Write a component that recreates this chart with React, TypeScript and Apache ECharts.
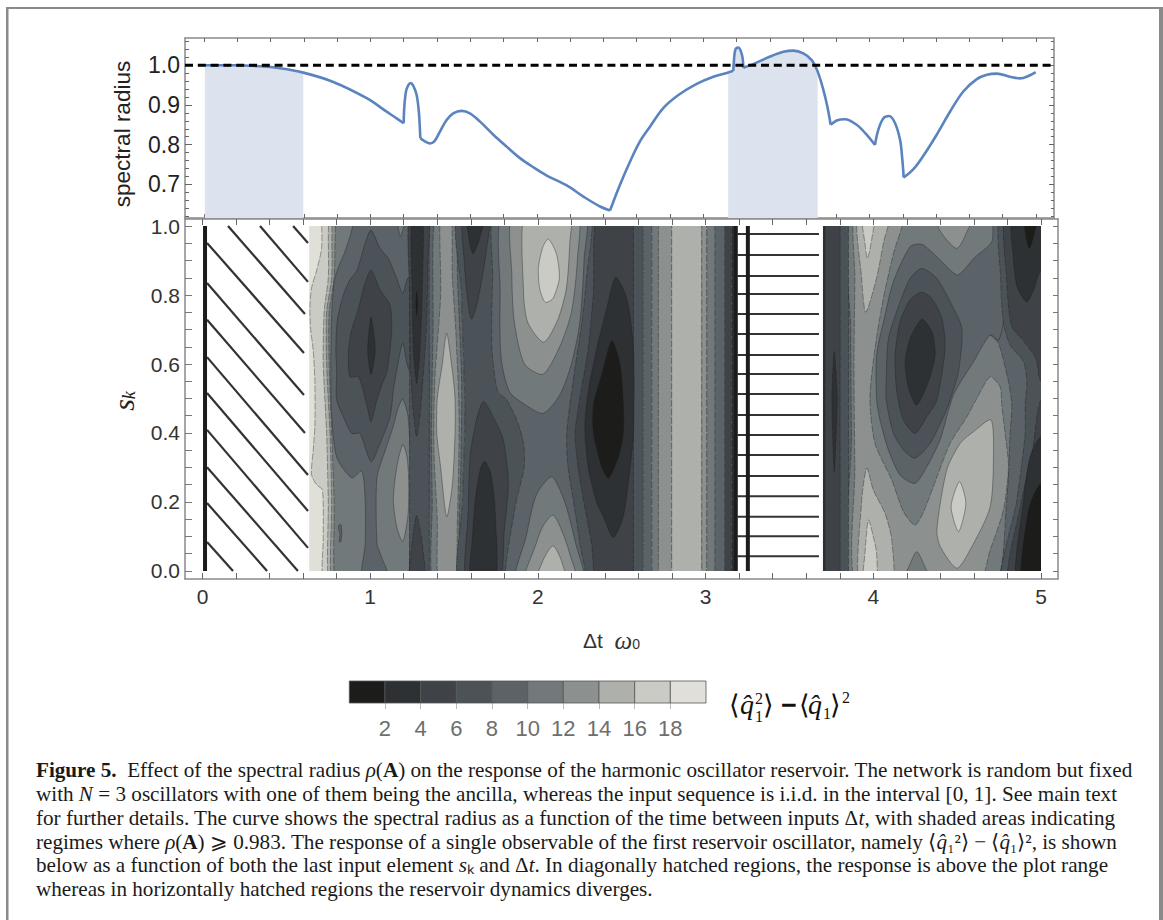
import React, { useEffect, useRef } from "react";
import * as echarts from "echarts";

const bandColors = ["#1c1c1b", "#2e3134", "#3f4348", "#4c5358", "#5b6368", "#72797b", "#8c9190", "#aeb0ac", "#cacbc5", "#e0e0d9"];
const bandEdges = [[0, 2], [2, 4], [4, 6], [6, 8], [8, 10], [10, 12], [12, 14], [14, 16], [16, 18], [18, 20]];
const barLabels = [2, 4, 6, 8, 10, 12, 14, 16, 18];
const xLabels = [0, 1, 2, 3, 4, 5];
const xTicks = [0, 0.2, 0.4, 0.6, 0.8, 1, 1.2, 1.4, 1.6, 1.8, 2, 2.2, 2.4, 2.6, 2.8, 3, 3.2, 3.4, 3.6, 3.8, 4, 4.2, 4.4, 4.6, 4.8, 5];
const rhoMajor = [0.7, 0.8, 0.9, 1.0];
const rhoMinor = [0.62, 0.64, 0.66, 0.68, 0.72, 0.74, 0.76, 0.78, 0.82, 0.84, 0.86, 0.88, 0.92, 0.94, 0.96, 0.98, 1.02, 1.04, 1.06];
const sLabels = [0, 0.2, 0.4, 0.6, 0.8, 1.0];
const sTicks = [0, 0.05, 0.1, 0.15, 0.2, 0.25, 0.3, 0.35, 0.4, 0.45, 0.5, 0.55, 0.6, 0.65, 0.7, 0.75, 0.8, 0.85, 0.9, 0.95, 1.0];

const spectralRadius = [
  [0.005, 1.0], [0.176, 1.0], [0.337, 0.9975], [0.457, 0.9924], [0.597, 0.9815], [0.777, 0.958], [0.978, 0.917], [1.098, 0.883], [1.148, 0.869], [1.2, 0.854],
  [1.204, 0.896], [1.214, 0.934], [1.228, 0.95], [1.242, 0.955], [1.258, 0.948], [1.278, 0.925], [1.292, 0.879], [1.3, 0.816], [1.328, 0.808], [1.358, 0.803],
  [1.384, 0.808], [1.418, 0.833], [1.458, 0.862], [1.498, 0.879], [1.548, 0.885], [1.598, 0.879], [1.659, 0.858], [1.739, 0.825], [1.819, 0.795], [1.899, 0.766],
  [1.979, 0.743], [2.06, 0.722], [2.18, 0.697], [2.28, 0.669], [2.38, 0.644], [2.44, 0.634], [2.5, 0.699], [2.56, 0.757], [2.62, 0.808], [2.68, 0.845],
  [2.76, 0.892], [2.851, 0.925], [2.961, 0.953], [3.061, 0.971], [3.15, 0.982], [3.181, 0.986], [3.185, 1.013], [3.193, 1.039], [3.211, 1.045], [3.225, 1.037],
  [3.237, 1.018], [3.241, 0.994], [3.301, 1.003], [3.402, 1.022], [3.482, 1.034], [3.542, 1.037], [3.602, 1.03], [3.652, 1.013], [3.688, 0.984], [3.722, 0.938],
  [3.746, 0.896], [3.766, 0.85], [3.802, 0.861], [3.852, 0.864], [3.922, 0.85], [3.982, 0.825], [4.032, 0.799], [4.052, 0.837], [4.082, 0.866], [4.117, 0.872],
  [4.153, 0.854], [4.183, 0.812], [4.195, 0.77], [4.205, 0.717], [4.263, 0.738], [4.323, 0.772], [4.403, 0.825], [4.483, 0.883], [4.563, 0.934], [4.644, 0.965],
  [4.704, 0.976], [4.764, 0.979], [4.844, 0.971], [4.904, 0.967], [4.954, 0.973], [4.998, 0.983],
];
const curveCusps = [0.005, 1.2, 1.3, 2.44, 3.181, 3.241, 3.766, 4.032, 4.205, 4.998];
const shadedRanges = [[0.005, 0.6], [3.15, 3.69]];
const unityLine = [[-0.114, 1], [5.108, 1]];

const diagonalHatch = [
  [0.54, 1, 0.629, 0.951], [0.343, 1, 0.629, 0.838], [0.152, 1, 0.611, 0.745], [0.027, 0.951, 0.605, 0.632], [0.027, 0.835, 0.605, 0.51], [0.027, 0.728, 0.611, 0.4],
  [0.027, 0.62, 0.629, 0.278], [0.027, 0.516, 0.629, 0.174], [0.027, 0.409, 0.629, 0.067], [0.027, 0.301, 0.569, 0], [0.027, 0.197, 0.385, 0], [0.027, 0.084, 0.182, 0],
];
const horizontalHatchS = [0.977, 0.916, 0.855, 0.803, 0.745, 0.687, 0.626, 0.571, 0.513, 0.452, 0.394, 0.336, 0.275, 0.217, 0.157, 0.101, 0.043];
const horizontalHatchRange = [3.19, 3.676];
const hatchWalls = [0.015, 3.18, 3.252];

// [band, kind, vertices (Δt, s)] : painted back to front
const leftContours: any[] = [
  [9, "strip", [[0.6, 1.05], [3.25, 1.05], [3.25, -0.05], [0.6, -0.05]]],
  [8, "wave", [[0.72, 1.05], [0.71, 0.935], [0.68, 0.87], [0.65, 0.82], [0.64, 0.76], [0.645, 0.7], [0.66, 0.64], [0.67, 0.55], [0.67, 0.42], [0.66, 0.35], [0.65, 0.28], [0.68, 0.25], [0.715, 0.235], [0.72, 0.1], [0.72, -0.05], [0.9, -0.25], [1.3, -0.25], [1.3, 1.25], [0.9, 1.25]]],
  [7, "wave", [[0.76, 1.05], [0.75, 0.85], [0.725, 0.75], [0.72, 0.6], [0.74, 0.4], [0.75, 0.2], [0.755, -0.05], [0.9, -0.25], [1.3, -0.25], [1.3, 1.25], [0.9, 1.25]]],
  [6, "wave", [[0.78, 1.05], [0.77, 0.85], [0.74, 0.75], [0.74, 0.6], [0.76, 0.4], [0.77, 0.2], [0.77, -0.05], [0.9, -0.25], [1.3, -0.25], [1.3, 1.25], [0.9, 1.25]]],
  [5, "wave", [[0.8, 1.05], [0.785, 0.85], [0.755, 0.75], [0.755, 0.6], [0.77, 0.4], [0.785, 0.2], [0.79, -0.05], [0.9, -0.25], [1.3, -0.25], [1.3, 1.25], [0.9, 1.25]]],
  [4, "blob", [[0.94, 1.05], [0.88, 0.97], [0.85, 0.926], [0.81, 0.88], [0.785, 0.84], [0.77, 0.74], [0.765, 0.6], [0.77, 0.45], [0.8, 0.33], [0.89, 0.27], [0.95, 0.29], [0.97, 0.206], [0.97, 0.08], [0.95, -0.05], [1.128, -0.05], [1.06, 0.05], [1.04, 0.08], [1.04, 0.27], [1.09, 0.35], [1.138, 0.42], [1.165, 0.47], [1.194, 0.498], [1.225, 0.45], [1.237, 0.35], [1.237, 0.1], [1.237, -0.05], [1.27, -0.05], [1.27, 0.5], [1.27, 1.05]]],
  [5, "blob", [[1.148, 1.05], [1.165, 1.0], [1.18, 0.97], [1.2, 1.0], [1.21, 1.05]]],
  [4, "blob", [[0.81, 0.13], [0.82, 0.105], [0.815, 0.085], [0.825, 0.085], [0.83, 0.11], [0.825, 0.135]]],
  [3, "blob", [[1.005, 0.988], [1.059, 0.935], [1.108, 0.906], [1.158, 0.848], [1.194, 0.805], [1.225, 0.85], [1.27, 0.85], [1.27, 0.7], [1.27, 0.55], [1.25, 0.56], [1.22, 0.6], [1.194, 0.66], [1.165, 0.6], [1.14, 0.53], [1.118, 0.447], [1.059, 0.37], [1.005, 0.317], [0.939, 0.399], [0.89, 0.399], [0.84, 0.447], [0.8, 0.496], [0.8, 0.578], [0.795, 0.645], [0.805, 0.73], [0.84, 0.8], [0.88, 0.845], [0.92, 0.87], [0.97, 0.95]]],
  [2, "blob", [[1.005, 0.872], [0.96, 0.82], [0.93, 0.76], [0.89, 0.7], [0.875, 0.66], [0.87, 0.616], [0.88, 0.563], [0.93, 0.563], [0.98, 0.481], [1.005, 0.433], [1.04, 0.496], [1.07, 0.54], [1.1, 0.578], [1.128, 0.694], [1.118, 0.771], [1.059, 0.815]]],
  [1, "blob", [[1.005, 0.735], [1.03, 0.64], [1.005, 0.57], [0.985, 0.64]]],
  [6, "blob", [[1.194, 0.366], [1.158, 0.3], [1.138, 0.206], [1.158, 0.128], [1.194, 0.085], [1.225, 0.16], [1.23, 0.25], [1.22, 0.33]]],
  [4, "wave", [[1.35, 1.05], [1.352, 0.6], [1.35, 0.2], [1.35, -0.05], [1.54, -0.05], [1.55, 0.2], [1.565, 0.45], [1.545, 0.8], [1.53, 1.05]]],
  [5, "wave", [[1.39, 1.05], [1.375, 0.7], [1.365, 0.4], [1.37, 0.2], [1.375, -0.05], [1.52, -0.05], [1.53, 0.15], [1.54, 0.3], [1.545, 0.55], [1.52, 0.85], [1.505, 1.05]]],
  [6, "wave", [[1.42, 1.05], [1.42, 0.8], [1.385, 0.55], [1.38, 0.35], [1.4, 0.15], [1.41, -0.05], [1.5, -0.05], [1.52, 0.15], [1.53, 0.45], [1.51, 0.7], [1.49, 0.85], [1.48, 1.05]]],
  [7, "blob", [[1.456, 0.689], [1.43, 0.6], [1.4, 0.5], [1.397, 0.4], [1.42, 0.3], [1.456, 0.157], [1.49, 0.25], [1.506, 0.4], [1.506, 0.5], [1.49, 0.58]]],
  [3, "strip", [[1.235, 1.05], [1.352, 1.05], [1.352, -0.05], [1.235, -0.05]]],
  [2, "wave", [[1.235, 1.05], [1.235, 0.8], [1.24, 0.6], [1.255, 0.47], [1.277, 0.389], [1.3, 0.47], [1.335, 0.7], [1.345, 0.9], [1.347, 1.05]]],
  [2, "wave", [[1.277, 0.16], [1.25, 0.08], [1.235, -0.05], [1.327, -0.05], [1.31, 0.08]]],
  [1, "wave", [[1.25, 1.05], [1.25, 0.8], [1.26, 0.62], [1.277, 0.544], [1.295, 0.62], [1.31, 0.8], [1.311, 1.05]]],
  [0, "blob", [[1.277, 0.81], [1.283, 0.775], [1.277, 0.74], [1.272, 0.775]]],
  [3, "wave", [[1.53, 1.05], [1.545, 0.8], [1.565, 0.45], [1.55, 0.2], [1.54, -0.05], [2.0, -0.05], [2.58, -0.05], [2.58, 0.5], [2.58, 1.05], [2.0, 1.05]]],
  [2, "wave", [[2.361, 1.05], [2.33, 0.8], [2.3, 0.645], [2.25, 0.5], [2.222, 0.399], [2.24, 0.3], [2.272, 0.206], [2.32, 0.08], [2.361, -0.05], [2.58, -0.05], [2.58, 0.5], [2.58, 1.05]]],
  [3, "strip", [[2.57, 1.05], [2.629, 1.05], [2.629, -0.05], [2.57, -0.05]]],
  [4, "strip", [[2.629, 1.05], [2.679, 1.05], [2.679, -0.05], [2.629, -0.05]]],
  [5, "strip", [[2.679, 1.05], [2.719, 1.05], [2.719, -0.05], [2.679, -0.05]]],
  [6, "strip", [[2.719, 1.05], [2.798, 1.05], [2.798, -0.05], [2.719, -0.05]]],
  [7, "strip", [[2.798, 1.05], [2.977, 1.05], [2.977, -0.05], [2.798, -0.05]]],
  [6, "strip", [[2.977, 1.05], [3.007, 1.05], [3.007, -0.05], [2.977, -0.05]]],
  [5, "strip", [[3.007, 1.05], [3.057, 1.05], [3.057, -0.05], [3.007, -0.05]]],
  [4, "strip", [[3.057, 1.05], [3.116, 1.05], [3.116, -0.05], [3.057, -0.05]]],
  [2, "strip", [[3.116, 1.05], [3.155, 1.05], [3.155, -0.05], [3.116, -0.05]]],
  [1, "strip", [[3.155, 1.05], [3.25, 1.05], [3.25, -0.05], [3.155, -0.05]]],
  [4, "wave", [[1.745, 1.05], [1.73, 0.85], [1.725, 0.65], [1.76, 0.52], [1.814, 0.496], [1.88, 0.43], [1.914, 0.37], [1.918, 0.3], [1.864, 0.186], [1.814, -0.05], [2.05, -0.05], [2.282, -0.05], [2.25, 0.08], [2.211, 0.206], [2.18, 0.3], [2.172, 0.399], [2.21, 0.55], [2.262, 0.72], [2.29, 0.85], [2.311, 1.05], [2.05, 1.05]]],
  [2, "blob", [[1.556, 1.05], [1.56, 0.9], [1.585, 0.77], [1.605, 0.73], [1.64, 0.78], [1.69, 0.92], [1.71, 1.05]]],
  [1, "blob", [[1.576, 1.05], [1.59, 0.96], [1.613, 0.92], [1.65, 0.96], [1.685, 1.05]]],
  [2, "blob", [[1.575, -0.05], [1.585, 0.177], [1.595, 0.33], [1.63, 0.43], [1.675, 0.491], [1.74, 0.44], [1.794, 0.38], [1.824, 0.254], [1.8, 0.12], [1.764, -0.05]]],
  [1, "blob", [[1.6, -0.05], [1.61, 0.1], [1.63, 0.22], [1.66, 0.3], [1.685, 0.317], [1.72, 0.28], [1.744, 0.18], [1.744, -0.05]]],
  [5, "blob", [[1.8, 1.05], [1.775, 0.8], [1.78, 0.62], [1.83, 0.52], [1.93, 0.48], [2.033, 0.457], [2.13, 0.51], [2.2, 0.6], [2.25, 0.72], [2.275, 0.9], [2.275, 1.05]]],
  [6, "blob", [[1.857, 1.05], [1.845, 0.85], [1.86, 0.72], [1.92, 0.6], [2.03, 0.57], [2.13, 0.65], [2.2, 0.75], [2.235, 0.9], [2.23, 1.05]]],
  [7, "blob", [[1.93, 1.05], [1.914, 0.81], [1.94, 0.72], [2.035, 0.663], [2.12, 0.73], [2.17, 0.82], [2.19, 0.95], [2.19, 1.05]]],
  [8, "blob", [[2.063, 0.962], [2.11, 0.92], [2.128, 0.85], [2.09, 0.79], [2.043, 0.779], [2.01, 0.82], [2.003, 0.88], [2.03, 0.94]]],
  [5, "blob", [[1.864, -0.05], [1.93, 0.1], [1.99, 0.22], [2.083, 0.273], [2.16, 0.2], [2.22, 0.09], [2.272, -0.05]]],
  [6, "blob", [[1.914, -0.05], [1.99, 0.08], [2.03, 0.13], [2.09, 0.162], [2.14, 0.12], [2.19, 0.05], [2.233, -0.05]]],
  [7, "blob", [[1.983, -0.05], [2.03, 0.03], [2.09, 0.073], [2.14, 0.03], [2.172, -0.05]]],
  [1, "blob", [[2.464, 0.851], [2.41, 0.76], [2.351, 0.645], [2.3, 0.52], [2.28, 0.42], [2.3, 0.3], [2.35, 0.2], [2.39, 0.157], [2.45, 0.097], [2.51, 0.16], [2.55, 0.3], [2.57, 0.4], [2.57, 0.645], [2.53, 0.79]]],
  [0, "blob", [[2.441, 0.667], [2.38, 0.568], [2.331, 0.481], [2.331, 0.4], [2.381, 0.3], [2.421, 0.269], [2.48, 0.33], [2.51, 0.4], [2.51, 0.48], [2.49, 0.6]]],
];

const rightContours: any[] = [
  [4, "strip", [[3.6, 1.05], [5.1, 1.05], [5.1, -0.05], [3.6, -0.05]]],
  [5, "wave", [[3.87, 1.05], [3.865, 0.7], [3.87, 0.4], [3.875, -0.05], [4.3, -0.05], [4.717, -0.05], [4.796, 0.206], [4.816, 0.399], [4.826, 0.481], [4.806, 0.549], [4.747, 0.66], [4.697, 0.684], [4.62, 0.72], [4.72, 0.9], [4.717, 1.05], [4.3, 1.05]]],
  [4, "blob", [[4.289, 0.947], [4.379, 0.911], [4.498, 0.858], [4.548, 0.877], [4.598, 0.906], [4.707, 0.955], [4.717, 1.05], [4.8, 1.05], [4.8, 0.8], [4.75, 0.67], [4.697, 0.684], [4.598, 0.607], [4.478, 0.51], [4.398, 0.38], [4.319, 0.302], [4.249, 0.254], [4.16, 0.278], [4.09, 0.351], [4.04, 0.438], [4.02, 0.496], [4.02, 0.626], [4.07, 0.742], [4.12, 0.839], [4.22, 0.94]]],
  [6, "wave", [[3.89, 1.05], [4.04, 1.05], [4.19, 1.05], [4.12, 0.92], [4.06, 0.79], [4.01, 0.645], [3.98, 0.5], [4.01, 0.37], [4.11, 0.264], [4.18, 0.172], [4.249, 0.133], [4.3, 0.172], [4.38, 0.273], [4.458, 0.37], [4.558, 0.447], [4.617, 0.5], [4.697, 0.563], [4.756, 0.534], [4.766, 0.481], [4.786, 0.399], [4.806, 0.302], [4.776, 0.177], [4.697, 0.061], [4.617, -0.05], [4.25, -0.05], [3.9, -0.05], [3.89, 0.3], [3.885, 0.6], [3.89, 0.85]]],
  [6, "blob", [[4.36, 1.05], [4.4, 0.985], [4.498, 0.935], [4.56, 0.985], [4.61, 1.05]]],
  [7, "wave", [[3.91, 1.05], [3.93, 0.85], [3.955, 0.75], [4.02, 0.85], [4.06, 0.95], [4.1, 1.05]]],
  [8, "wave", [[3.93, 1.05], [3.95, 0.95], [3.965, 0.906], [3.99, 0.96], [4.01, 1.05]]],
  [7, "wave", [[3.92, -0.05], [3.93, 0.2], [3.961, 0.298], [4.0, 0.235], [4.07, 0.167], [4.11, 0.09], [4.11, -0.05]]],
  [8, "wave", [[3.94, -0.05], [3.95, 0.05], [3.971, 0.148], [4.0, 0.1], [4.02, 0.05], [4.015, -0.05]]],
  [7, "blob", [[4.701, 0.438], [4.598, 0.404], [4.518, 0.37], [4.438, 0.293], [4.379, 0.119], [4.399, 0.071], [4.498, 0.008], [4.577, 0.061], [4.697, 0.186], [4.717, 0.351]]],
  [8, "blob", [[4.514, 0.259], [4.552, 0.196], [4.508, 0.114], [4.464, 0.187]]],
  [5, "blob", [[4.15, -0.05], [4.21, 0.01], [4.259, 0.056], [4.31, 0.01], [4.359, -0.05]]],
  [3, "blob", [[4.289, 0.877], [4.22, 0.848], [4.16, 0.78], [4.09, 0.674], [4.077, 0.549], [4.077, 0.496], [4.12, 0.399], [4.18, 0.351], [4.249, 0.327], [4.339, 0.37], [4.418, 0.447], [4.458, 0.496], [4.508, 0.578], [4.528, 0.703], [4.458, 0.781], [4.379, 0.848]]],
  [2, "blob", [[4.289, 0.808], [4.22, 0.786], [4.16, 0.723], [4.13, 0.626], [4.14, 0.52], [4.18, 0.438], [4.249, 0.399], [4.319, 0.447], [4.379, 0.496], [4.428, 0.645], [4.409, 0.732], [4.349, 0.79]]],
  [1, "blob", [[4.289, 0.73], [4.22, 0.674], [4.19, 0.607], [4.21, 0.53], [4.259, 0.481], [4.329, 0.549], [4.369, 0.626], [4.349, 0.694]]],
  [3, "wave", [[4.766, 1.05], [4.76, 0.84], [4.776, 0.72], [4.816, 0.655], [4.896, 0.607], [4.916, 0.549], [4.906, 0.481], [4.906, 0.399], [4.856, 0.206], [4.766, -0.05], [5.1, -0.05], [5.1, 0.5], [5.1, 1.05]]],
  [2, "wave", [[4.796, 1.05], [4.796, 0.84], [4.825, 0.71], [4.9, 0.665], [4.97, 0.616], [5.0, 0.55], [5.1, 0.55], [5.1, 1.05]]],
  [2, "wave", [[5.1, 0.5], [5.0, 0.496], [4.95, 0.35], [4.885, 0.206], [4.806, -0.05], [5.1, -0.05]]],
  [1, "blob", [[4.836, 1.05], [4.836, 0.9], [4.86, 0.82], [4.916, 0.78], [4.96, 0.82], [5.0, 0.87], [5.1, 0.87], [5.1, 1.05]]],
  [0, "blob", [[4.896, 1.05], [4.91, 0.97], [4.931, 0.935], [4.96, 0.98], [4.99, 1.05]]],
  [1, "blob", [[5.1, 0.39], [5.0, 0.39], [4.935, 0.331], [4.896, 0.206], [4.856, -0.05], [5.1, -0.05]]],
  [0, "blob", [[5.1, 0.25], [5.0, 0.254], [4.926, 0.177], [4.89, -0.05], [5.1, -0.05]]],
  [3, "strip", [[3.6, 1.05], [3.852, 1.05], [3.852, -0.05], [3.6, -0.05]]],
  [2, "strip", [[3.6, 1.05], [3.802, 1.05], [3.802, -0.05], [3.6, -0.05]]],
  [1, "wave", [[3.767, 0.636], [3.785, 0.5], [3.767, 0.288], [3.753, 0.5]]],
  [1, "strip", [[3.6, 1.05], [3.712, 1.05], [3.712, -0.05], [3.6, -0.05]]],
];

const leftRange = [0.636, 3.186];
const rightRange = [3.7, 5.0];

const captionLines = [
  "{b|Figure 5.}  Effect of the spectral radius {i|ρ}({b|A}) on the response of the harmonic oscillator reservoir. The network is random but fixed",
  "with {i|N} = 3 oscillators with one of them being the ancilla, whereas the input sequence is i.i.d. in the interval [0, 1]. See main text",
  "for further details. The curve shows the spectral radius as a function of the time between inputs Δ{i|t}, with shaded areas indicating",
  "regimes where {i|ρ}({b|A}) ⩾ 0.983. The response of a single observable of the first reservoir oscillator, namely ⟨{i|q̂}₁²⟩ − ⟨{i|q̂}₁⟩², is shown",
  "below as a function of both the last input element {i|s}ₖ and Δ{i|t}. In diagonally hatched regions, the response is above the plot range",
  "whereas in horizontally hatched regions the reservoir dynamics diverges.",
];

const SANS = "Liberation Sans";
const SERIF = "Liberation Serif";
const CAPTION_SIZE = 21.15;

function contourSeries(list: any[], range: number[]) {
  return {
    type: "custom",
    xAxisIndex: 2,
    yAxisIndex: 4,
    silent: true,
    clip: false,
    encode: { x: 0, y: 1 },
    data: list.map((c) => c[2][0]),
    renderItem: (params: any, api: any) => {
      const [band, kind, pts] = list[params.dataIndex];
      const a = api.coord([range[0], 1]);
      const b = api.coord([range[1], 0]);
      return {
        type: "polygon",
        shape: { points: pts.map((p: number[]) => api.coord(p)), smooth: kind === "strip" ? 0 : 0.25 },
        style: { fill: bandColors[band], stroke: "rgba(30,30,30,0.42)", lineWidth: 0.9, lineDash: kind === "blob" ? null : [7, 1.5] },
        clipPath: { type: "rect", shape: { x: a[0], y: a[1], width: b[0] - a[0], height: b[1] - a[1] } },
      };
    },
  };
}

function segmentSeries(rows: number[][], width: number, color: string) {
  return {
    type: "custom",
    xAxisIndex: 2,
    yAxisIndex: 4,
    silent: true,
    clip: false,
    encode: { x: [0, 2], y: [1, 3] },
    data: rows,
    renderItem: (params: any, api: any) => {
      const r = rows[params.dataIndex];
      const p = api.coord([r[0], r[1]]);
      const q = api.coord([r[2], r[3]]);
      return { type: "line", shape: { x1: p[0], y1: p[1], x2: q[0], y2: q[1] }, style: { stroke: color, lineWidth: width } };
    },
  };
}

const frame = { color: "#8a8a8a", width: 1.5 };
const xTickAxis = (grid: number, pos: string, len: number, color = "#666") => ({
  type: "value", gridIndex: grid, position: pos, min: grid === 0 ? -0.114 : -0.1044, max: grid === 0 ? 5.108 : 5.1014,
  axisLine: { show: true, onZero: false, lineStyle: frame },
  axisTick: { show: true, inside: true, length: len, customValues: xTicks, lineStyle: { color, width: 1 } },
  axisLabel: { show: false }, splitLine: { show: false },
});
const rhoAxis = (pos: string, ticks: number[], len: number, line: boolean) => ({
  type: "value", gridIndex: 0, position: pos, min: 0.615, max: 1.0688,
  axisLine: { show: line, onZero: false, lineStyle: frame },
  axisTick: { show: true, inside: true, length: len, customValues: ticks, lineStyle: { color: "#666", width: 1 } },
  axisLabel: { show: false }, splitLine: { show: false },
});
const sAxis = (pos: string, len: number) => ({
  type: "value", gridIndex: 1, position: pos, min: -0.0232, max: 1.0203,
  axisLine: { show: true, onZero: false, lineStyle: frame },
  axisTick: { show: true, inside: true, length: len, customValues: sTicks, lineStyle: { color: "#777", width: 1 } },
  axisLabel: { show: false }, splitLine: { show: false },
});

const txt = (x: number, y: number, text: string, size: number, family = SERIF, extra: any = {}) => ({
  type: "text", x, y, silent: true, z: 20,
  style: { text, fontSize: size, fontFamily: family, fill: "#111", verticalAlign: "middle", ...extra },
});

export default function App() {
  const ref = useRef<HTMLDivElement>(null);
  useEffect(() => {
    const chart = echarts.init(ref.current!, undefined, { renderer: "svg" });
    const rich = {
      b: { fontFamily: SERIF, fontSize: CAPTION_SIZE, fontWeight: "bold", fill: "#1a1a1a" },
      i: { fontFamily: SERIF, fontSize: CAPTION_SIZE, fontStyle: "italic", fill: "#1a1a1a" },
    };
    const option: any = {
      animation: false,
      backgroundColor: "#fff",
      grid: [
        { left: 185, top: 38, width: 869, height: 180 },
        { left: 185, top: 219, width: 873, height: 360 },
        { left: 349.3, top: 681, width: 356.7, height: 22 },
      ],
      xAxis: [
        xTickAxis(0, "bottom", 4),
        xTickAxis(0, "top", 4),
        { ...xTickAxis(1, "bottom", 6), axisLabel: { show: true, customValues: xLabels, fontFamily: SANS, fontSize: 21, color: "#333", margin: 7 } },
        xTickAxis(1, "top", 6),
        {
          type: "value", gridIndex: 2, position: "bottom", min: 0, max: 20,
          axisLine: { show: false, onZero: false },
          axisTick: { show: true, length: 6, customValues: barLabels, lineStyle: { color: "#bbb", width: 1 } },
          axisLabel: { show: true, customValues: barLabels, fontFamily: SANS, fontSize: 22, color: "#6e6e6e", margin: 14 },
          splitLine: { show: false },
        },
      ],
      yAxis: [
        { ...rhoAxis("left", rhoMajor, 7, true), axisLabel: { show: true, customValues: rhoMajor, formatter: (v: number) => v.toFixed(1), fontFamily: SANS, fontSize: 23, color: "#222", margin: 5 } },
        rhoAxis("left", rhoMinor, 4, false),
        rhoAxis("right", rhoMajor, 5, true),
        rhoAxis("right", rhoMinor, 3, false),
        { ...sAxis("left", 7), axisLabel: { show: true, customValues: sLabels, formatter: (v: number) => v.toFixed(1), fontFamily: SANS, fontSize: 21, color: "#333", margin: 5 } },
        sAxis("right", 5),
        { type: "value", gridIndex: 2, min: 0, max: 1, show: false },
      ],
      series: [
        ...shadedRanges.map((r) => ({
          type: "line", xAxisIndex: 0, yAxisIndex: 0, showSymbol: false, silent: true,
          data: spectralRadius.filter((p) => p[0] >= r[0] && p[0] <= r[1]),
          lineStyle: { width: 0 }, areaStyle: { color: "#dce3ef", opacity: 1, origin: "start" }, z: 1,
        })),
        ...curveCusps.slice(0, -1).map((c, i) => ({
          type: "line", xAxisIndex: 0, yAxisIndex: 0, showSymbol: false, silent: true, z: 2, smooth: 0.35,
          data: spectralRadius.filter((p) => p[0] >= c && p[0] <= curveCusps[i + 1]),
          lineStyle: { color: "#5b84bf", width: 2.6 },
        })),
        {
          type: "line", xAxisIndex: 0, yAxisIndex: 0, showSymbol: false, silent: true, z: 3,
          data: unityLine, lineStyle: { color: "#000", width: 3, type: [8, 4.8] },
        },
        contourSeries(leftContours, leftRange),
        contourSeries(rightContours, rightRange),
        segmentSeries(diagonalHatch, 2.2, "#333"),
        segmentSeries(horizontalHatchS.map((s) => [horizontalHatchRange[0], s, horizontalHatchRange[1], s]), 2, "#333"),
        segmentSeries(hatchWalls.map((x) => [x, 0, x, 1]), 4, "#1c1c1c"),
        {
          type: "custom", xAxisIndex: 4, yAxisIndex: 6, silent: true, encode: { x: [0, 1] }, data: bandEdges,
          renderItem: (params: any, api: any) => {
            const e = bandEdges[params.dataIndex];
            const p = api.coord([e[0], 1]);
            const q = api.coord([e[1], 0]);
            return {
              type: "rect",
              shape: { x: p[0], y: p[1], width: q[0] - p[0], height: q[1] - p[1] },
              style: { fill: bandColors[params.dataIndex], stroke: "#555", lineWidth: 0.8 },
            };
          },
        },
      ],
      graphic: [
        { type: "rect", silent: true, shape: { x: 6, y: 7, width: 1153, height: 2 }, style: { fill: "#8a8a8a" } },
        { type: "rect", silent: true, shape: { x: 6, y: 7, width: 2.5, height: 913 }, style: { fill: "#8a8a8a" } },
        { type: "rect", silent: true, shape: { x: 1159, y: 7, width: 4, height: 913 }, style: { fill: "#8a8a8a" } },
        { ...txt(122, 134, "spectral radius", 22.5, SANS, { align: "center", fill: "#222" }), rotation: Math.PI / 2 },
        { ...txt(123, 401, "{s|s}{k|k}", 24, SERIF, {
            align: "center",
            rich: {
              s: { fontFamily: SERIF, fontStyle: "italic", fontSize: 30, fill: "#222", lineHeight: 30 },
              k: { fontFamily: SERIF, fontStyle: "italic", fontSize: 18, fill: "#222", lineHeight: 18, padding: [18, 0, 0, 0], verticalAlign: "bottom" },
            },
          }), rotation: Math.PI / 2 },
        txt(583, 640, "Δt  {w|ω}{o|0}", 21, SANS, {
          fill: "#333",
          rich: {
            w: { fontFamily: SERIF, fontStyle: "italic", fontSize: 25, fill: "#333", lineHeight: 22 },
            o: { fontFamily: SANS, fontSize: 14, fill: "#333", lineHeight: 14, padding: [12, 0, 0, 0], verticalAlign: "bottom" },
          },
        }),
        txt(729, 705, "⟨", 27),
        txt(740, 704, "q̂", 28, SERIF, { fontStyle: "italic" }),
        txt(755, 698, "2", 16),
        txt(755, 716, "1", 16),
        txt(763, 705, "⟩", 27),
        txt(781, 705, "−", 27, SANS, { fontWeight: "bold" }),
        txt(799, 705, "⟨", 27),
        txt(808, 704, "q̂", 28, SERIF, { fontStyle: "italic" }),
        txt(823, 713, "1", 16),
        txt(830, 705, "⟩", 27),
        txt(842, 697, "2", 16),
        ...captionLines.map((line, i) => ({
          type: "text", x: 36, y: 770 + i * 23.85, silent: true,
          style: { text: line, fontFamily: SERIF, fontSize: CAPTION_SIZE, fill: "#1a1a1a", verticalAlign: "middle", rich },
        })),
      ],
    };
    chart.setOption(option);
    return () => chart.dispose();
  }, []);
  return <div ref={ref} style={{ position: "absolute", left: 0, top: 0, width: 1163, height: 920 }} />;
}
